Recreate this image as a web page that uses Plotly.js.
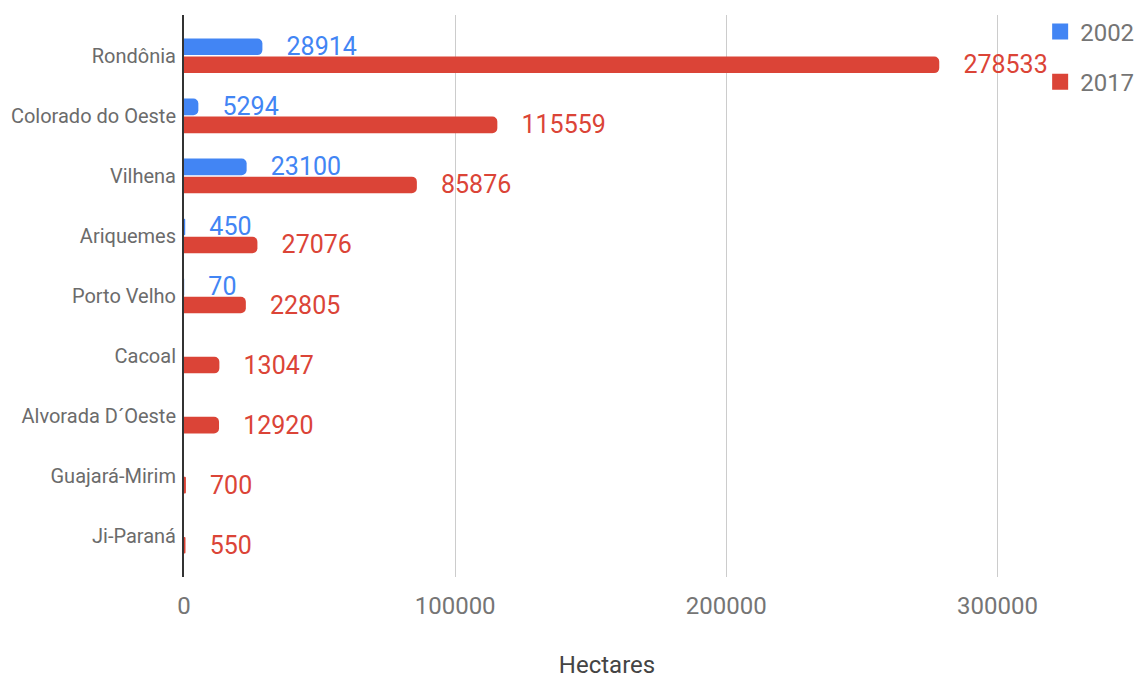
<!DOCTYPE html>
<html>
<head>
<meta charset="utf-8">
<script src="https://cdn.plot.ly/plotly-3.0.1.min.js"></script>
<style>html,body{margin:0;padding:0;background:#fff;}#chart{width:1139px;height:679px;}</style>
</head>
<body>
<div id="chart"></div>
<script>
const categories = ["Rondônia", "Colorado do Oeste", "Vilhena", "Ariquemes", "Porto Velho", "Cacoal", "Alvorada D´Oeste", "Guajará-Mirim", "Ji-Paraná"];
const values2002 = [28914, 5294, 23100, 450, 70, null, null, null, null];
const values2017 = [278533, 115559, 85876, 27076, 22805, 13047, 12920, 700, 550];
const seriesNames = ["2002", "2017"];
const xTicks = [0, 100000, 200000, 300000];

const colors = ["#4285F4", "#DB4437"];
const pad = "\u00a0\u00a0\u00a0\u200a";

function mkTrace(vals, name, color) {
  return {
    type: "bar",
    orientation: "h",
    y: categories,
    x: vals,
    name: name,
    showlegend: false,
    marker: {color: color, cornerradius: 5},
    text: vals.map(v => v === null ? "" : pad + String(v)),
    textposition: "outside",
    texttemplate: "%{text}",
    constraintext: "none",
    cliponaxis: false,
    textfont: {family: "Roboto", size: 25, color: color},
    hoverinfo: "x+name"
  };
}

function mkLegend(name, color, grp) {
  return {
    type: "scatter",
    mode: "markers",
    x: [null],
    y: [null],
    name: name,
    legendgroup: grp,
    showlegend: true,
    marker: {symbol: "square", size: 16, color: color},
    hoverinfo: "skip"
  };
}

const data = [
  mkTrace(values2002, seriesNames[0], colors[0]),
  mkTrace(values2017, seriesNames[1], colors[1]),
  mkLegend(seriesNames[0], colors[0], "a"),
  mkLegend(seriesNames[1], colors[1], "b")
];

const layout = {
  width: 1139,
  height: 679,
  margin: {l: 184, r: 109, t: 15, b: 102, autoexpand: false},
  paper_bgcolor: "#fff",
  plot_bgcolor: "#fff",
  font: {family: "Roboto", color: "#757575"},
  barmode: "group",
  bargap: 0.4,
  bargroupgap: 0.08,
  xaxis: {
    range: [0, 312000],
    tickvals: xTicks,
    ticktext: xTicks.map(String),
    showgrid: true,
    gridcolor: "#cccccc",
    gridwidth: 1,
    zeroline: false,
    showline: false,
    ticks: "",
    automargin: true,
    ticklabelstandoff: 12,
    tickfont: {family: "Roboto", size: 24, color: "#757575"},
    title: {text: "Hectares", font: {family: "Roboto", size: 24, color: "#444444"}, standoff: 40}
  },
  yaxis: {
    type: "category",
    range: [8.68, -0.68],
    showgrid: false,
    zeroline: false,
    showline: true,
    linecolor: "#333333",
    linewidth: 2,
    ticks: "",
    ticklabelstandoff: 2,
    tickfont: {family: "Roboto", size: 20, color: "#6b6b6b"}
  },
  showlegend: true,
  legend: {
    x: 1.012,
    xanchor: "left",
    y: 1.01,
    yanchor: "top",
    traceorder: "grouped",
    tracegroupgap: 16,
    font: {family: "Roboto", size: 24, color: "#757575"},
    bgcolor: "rgba(0,0,0,0)"
  }
};

Plotly.newPlot("chart", data, layout, {displayModeBar: false, staticPlot: true});
</script>
</body>
</html>
